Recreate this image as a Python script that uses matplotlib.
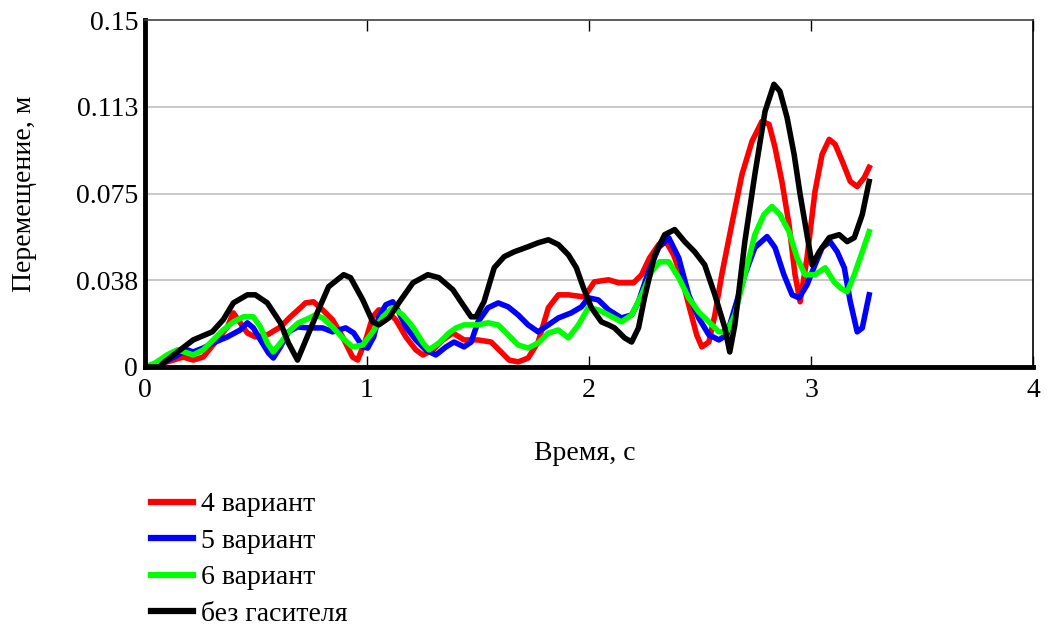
import numpy as np
import matplotlib
matplotlib.use("Agg")
import matplotlib.pyplot as plt

plt.rcParams['font.family'] = ['Liberation Serif', 'DejaVu Serif']

# 4 вариант
t_red = [0, .068, .172, .217, .262, .325, .371, .398, .429, .461, .497, .551, .61, .655, .7, .723, .759, .8, .845,
         .89, .935, .958, .994, 1.026, 1.053, 1.098, 1.13, 1.175, 1.22, 1.252, 1.297, 1.342, 1.387, 1.437, 1.5,
         1.559, 1.604, 1.64, 1.681, 1.726, 1.771, 1.817, 1.862, 1.907, 1.979, 2.024, 2.088, 2.133, 2.201, 2.237,
         2.273, 2.314, 2.35, 2.381, 2.418, 2.449, 2.485, 2.508, 2.54, 2.567, 2.598, 2.643, 2.689, 2.734, 2.779,
         2.811, 2.838, 2.869, 2.901, 2.928, 2.951, 2.982, 3.018, 3.05, 3.082, 3.109, 3.141, 3.177, 3.208, 3.24, 3.262]
y_red = [0, .0013, .0043, .003, .0043, .0117, .0173, .0234, .0191, .0147, .013, .0139, .0173, .0217, .0256, .0277,
         .0282, .0247, .0204, .013, .0043, .003, .0117, .0217, .0247, .0234, .0204, .013, .0074, .0052, .0074, .0117,
         .0147, .0117, .0117, .0108, .0065, .003, .0022, .0039, .0108, .0256, .0312, .0312, .0303, .0368, .0377,
         .0364, .0364, .0399, .0472, .0529, .0537, .0485, .0386, .0269, .0139, .0087, .0108, .0225, .0399, .0616,
         .0832, .0975, .1062, .1049, .0949, .0802, .0616, .0399, .0282, .0472, .0759, .0919, .0984, .0962, .0889,
         .0802, .078, .0819, .0863]

# 5 вариант
t_blue = [0, .09, .19, .217, .262, .307, .371, .429, .461, .488, .52, .556, .578, .61, .646, .687, .737, .8, .845,
          .904, .94, .981, 1.003, 1.03, 1.053, 1.085, 1.116, 1.143, 1.175, 1.22, 1.265, 1.31, 1.356, 1.392, 1.437,
          1.469, 1.5, 1.545, 1.591, 1.636, 1.681, 1.726, 1.771, 1.817, 1.862, 1.92, 1.966, 1.997, 2.042, 2.088,
          2.146, 2.192, 2.223, 2.268, 2.314, 2.359, 2.404, 2.449, 2.494, 2.54, 2.585, 2.621, 2.657, 2.702, 2.747,
          2.802, 2.838, 2.878, 2.915, 2.946, 2.982, 3.018, 3.05, 3.086, 3.118, 3.15, 3.177, 3.208, 3.231, 3.262]
y_blue = [0, .0022, .0074, .0065, .0082, .0104, .013, .016, .0191, .0169, .0117, .0061, .0039, .0087, .0152, .0173,
          .0169, .0169, .0152, .0169, .0147, .0087, .0082, .013, .0217, .0269, .0282, .0238, .0173, .0117, .0074,
          .0052, .0087, .0108, .0087, .0108, .0195, .0256, .0277, .026, .0225, .0182, .0152, .0182, .0212, .0234,
          .026, .0299, .029, .0247, .0212, .0225, .0282, .0412, .0516, .0559, .0472, .0312, .0212, .0139, .0117,
          .0139, .0256, .0399, .0516, .0564, .0516, .0399, .0312, .0299, .0355, .0442, .0516, .0542, .0498, .0429,
          .0282, .0152, .0169, .0312]

# 6 вариант
t_green = [0, .045, .099, .145, .19, .217, .262, .307, .352, .398, .443, .488, .52, .551, .578, .61, .655, .691,
           .723, .768, .8, .845, .89, .935, .981, 1.026, 1.071, 1.116, 1.161, 1.207, 1.252, 1.279, 1.324, 1.369,
           1.401, 1.437, 1.5, 1.545, 1.591, 1.636, 1.681, 1.726, 1.771, 1.817, 1.862, 1.907, 1.952, 1.997, 2.042,
           2.088, 2.146, 2.192, 2.237, 2.282, 2.318, 2.359, 2.404, 2.449, 2.494, 2.54, 2.585, 2.621, 2.657, 2.702,
           2.747, 2.788, 2.824, 2.86, 2.901, 2.937, 2.973, 3.018, 3.064, 3.104, 3.132, 3.163, 3.195, 3.231, 3.262]
y_green = [0, .0017, .0052, .0074, .0061, .0052, .0074, .0117, .016, .0195, .0217, .0217, .0173, .0104, .0065,
           .0104, .016, .0191, .0204, .0225, .0212, .0173, .0126, .0087, .0095, .0152, .0217, .0256, .0225, .0173,
           .0104, .0074, .0104, .0147, .0169, .0182, .0182, .0191, .0182, .0139, .0095, .0082, .0104, .0147, .016,
           .0126, .0182, .0256, .0247, .0225, .0195, .0225, .0312, .0412, .0455, .0455, .0386, .0299, .0238, .0195,
           .0152, .0152, .0225, .0399, .0572, .0659, .0694, .0659, .0585, .0472, .0399, .0399, .0429, .0368, .0342,
           .0325, .0399, .0498, .0585]

# без гасителя
t_black = [0, .068, .081, .217, .303, .352, .398, .461, .497, .551, .61, .646, .687, .768, .827, .895, .926, .981,
           1.026, 1.053, 1.098, 1.143, 1.207, 1.274, 1.324, 1.387, 1.423, 1.469, 1.491, 1.527, 1.573, 1.618, 1.663,
           1.726, 1.771, 1.817, 1.862, 1.907, 1.943, 1.975, 2.011, 2.056, 2.088, 2.115, 2.16, 2.192, 2.223, 2.25,
           2.296, 2.341, 2.386, 2.431, 2.476, 2.521, 2.567, 2.612, 2.634, 2.657, 2.702, 2.747, 2.793, 2.833, 2.86,
           2.892, 2.924, 2.951, 2.982, 3.005, 3.037, 3.082, 3.127, 3.163, 3.195, 3.231, 3.262]
y_black = [0, 0, .0017, .0117, .0152, .0204, .0277, .0312, .0312, .0277, .0191, .0104, .003, .0217, .0347, .0399,
           .0386, .029, .0195, .0182, .0212, .0277, .0364, .0399, .0386, .0334, .0282, .0217, .0217, .0282, .0429,
           .0477, .0498, .052, .0537, .055, .0529, .0485, .0429, .0342, .0256, .0195, .0182, .0169, .0126, .0108,
           .0169, .0299, .0485, .0572, .0594, .0542, .0498, .0442, .0312, .0169, .0065, .0182, .0542, .0832, .1105,
           .1222, .1192, .1079, .0919, .0746, .0572, .0442, .0498, .0559, .0572, .0542, .0559, .0659, .0802]

yticks = [0, 0.0375, 0.075, 0.1125, 0.15]
ytick_labels = ['0', '0.038', '0.075', '0.113', '0.15']
xticks = [0, 1, 2, 3, 4]

fs = 20
fig = plt.figure(figsize=(10.51, 6.26), dpi=100)
ax = fig.add_axes([145 / 1051, 1 - 367 / 626, (1033 - 145) / 1051, (367 - 20) / 626])

lw = 4.0
ax.plot(t_red, y_red, color='#ff0000', lw=lw, label='4 вариант', solid_joinstyle='round')
ax.plot(t_blue, y_blue, color='#0000ff', lw=lw, label='5 вариант', solid_joinstyle='round')
ax.plot(t_green, y_green, color='#00ff00', lw=lw, label='6 вариант', solid_joinstyle='round')
ax.plot(t_black, y_black, color='black', lw=lw, label='без гасителя', solid_joinstyle='round')

ax.set_xlim(0, 4)
ax.set_ylim(0, 0.15)
ax.set_yticks(yticks)
ax.set_yticklabels(ytick_labels)
ax.set_xticks(xticks)
ax.set_xticklabels([str(x) for x in xticks])
for y in yticks[1:-1]:
    ax.axhline(y, color='#c8c8c8', lw=1.4, zorder=0)

ax.spines['left'].set_linewidth(3.5)
ax.spines['bottom'].set_linewidth(3.5)
ax.spines['top'].set_linewidth(1.2)
ax.spines['top'].set_color('#404040')
ax.spines['right'].set_linewidth(1.2)
ax.tick_params(axis='x', direction='in', length=8, width=1, top=True, labelsize=fs, pad=8)
ax.tick_params(axis='y', length=0, labelsize=fs, pad=5)

ax.set_xlabel('Время, с', fontsize=fs)
ax.set_ylabel('Перемещение, м', fontsize=fs)
ax.xaxis.set_label_coords((585 - 145) / 888, (367 - 453) / 347)
ax.yaxis.set_label_coords((25 - 145) / 888, 0.5)
ax.xaxis.label.set_va('center')
ax.yaxis.label.set_va('center')

fig.legend(loc='upper left', bbox_to_anchor=(137 / 1051, 1 - 478 / 626), frameon=False, fontsize=fs,
           handlelength=1.5, handletextpad=0.3, labelspacing=0.4, borderpad=0)
for line in fig.legends[0].get_lines():
    line.set_linewidth(4.5)

fig.savefig('out.png', dpi=100)
